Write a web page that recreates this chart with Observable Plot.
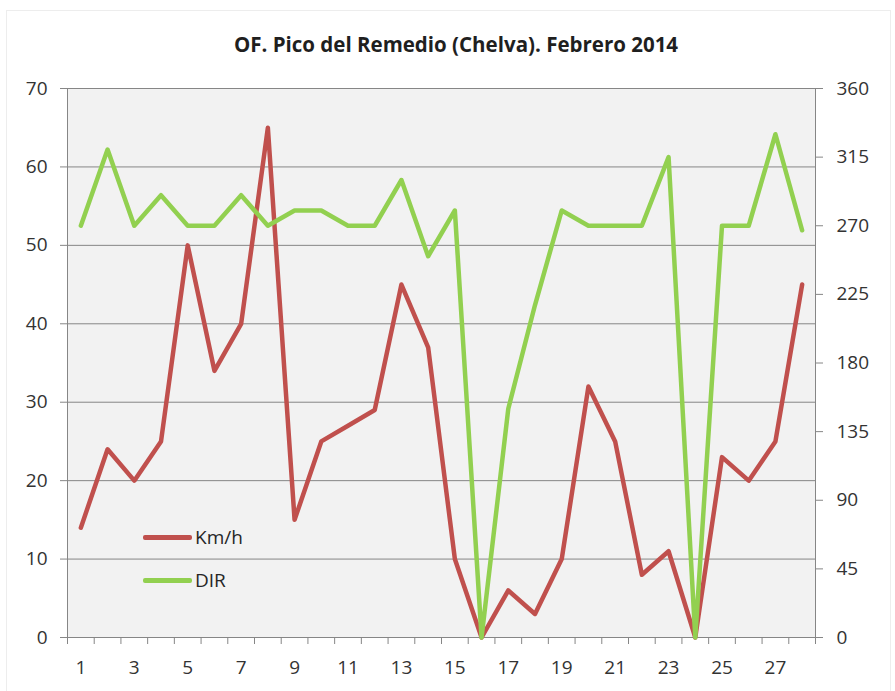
<!DOCTYPE html>
<html><head><meta charset="utf-8">
<script src="https://cdn.jsdelivr.net/npm/d3@7"></script>
<script src="https://cdn.jsdelivr.net/npm/@observablehq/plot@0.6"></script>
<style>
body{margin:0;background:#fff;font-family:"Open Sans",sans-serif;}
#wrap{position:relative;width:895px;height:691px;overflow:hidden;}
#border{position:absolute;left:6px;top:10px;width:885px;height:690px;border:1px solid #ededed;box-sizing:border-box;}
#title{position:absolute;left:0;top:30px;width:912px;text-align:center;font-weight:bold;font-size:20.5px;color:#1f1f1f;line-height:28px;}
.leg{position:absolute;left:143px;width:49px;height:4.5px;border-radius:2px;}
.legt{position:absolute;left:195px;font-size:19px;color:#262626;line-height:20px;}
#chart{position:absolute;left:0;top:0;}
</style></head><body>
<div id="wrap">
<div id="border"></div>
<div id="chart"></div>
<div id="title"></div>
<div class="leg" style="top:535px;background:#c0504d"></div><div class="legt" id="l1" style="top:527px"></div>
<div class="leg" style="top:578px;background:#92d050"></div><div class="legt" id="l2" style="top:570px"></div>
</div>
<script>
const titleText = "OF. Pico del Remedio (Chelva). Febrero 2014";
const seriesNames = ["Km/h", "DIR"];
const days = [1,2,3,4,5,6,7,8,9,10,11,12,13,14,15,16,17,18,19,20,21,22,23,24,25,26,27,28];
const speed = [14,24,20,25,50,34,40,65,15,25,27,29,45,37,10,0,6,3,10,32,25,8,11,0,23,20,25,45];
const dir = [270,320,270,290,270,270,290,270,280,280,270,270,300,250,280,0,150,218,280,270,270,270,315,0,270,270,330,267];
const leftTicks = [0,10,20,30,40,50,60,70];
const rightTicks = [0,45,90,135,180,225,270,315,360];
const xLabels = [1,3,5,7,9,11,13,15,17,19,21,23,25,27];

const k = 70/360;
const data = days.map((d,i)=>({day:d, speed:speed[i], dir:dir[i]}));
const bounds = days.map(d=>d-0.5).concat([days[days.length-1]+0.5]);

document.getElementById("title").textContent = titleText;
document.getElementById("l1").textContent = seriesNames[0];
document.getElementById("l2").textContent = seriesNames[1];

const grid = "#868686";
const chart = Plot.plot({
  width: 895, height: 691,
  marginLeft: 67, marginRight: 80, marginTop: 88, marginBottom: 54,
  style: {fontFamily: "Open Sans", fontSize: "19px", color: "#333", background: "transparent"},
  x: {domain: [0.5, 28.5]},
  y: {domain: [0, 70]},
  marks: [
    Plot.frame({fill: "#f2f2f2", stroke: null}),
    Plot.gridY(leftTicks, {stroke: grid, strokeOpacity: 1, strokeWidth: 1}),
    Plot.ruleX([bounds[0], bounds[bounds.length-1]], {stroke: grid, strokeWidth: 1}),
    Plot.axisY({ticks: leftTicks, tickSize: 7, tickPadding: 13, label: null, stroke: grid, tickFormat: d => d}),
    Plot.axisY({anchor: "right", ticks: rightTicks.map(v => v*k), tickSize: 7, tickPadding: 14, label: null, stroke: grid, tickFormat: d => Math.round(d/k)}),
    Plot.axisX({ticks: bounds, tickSize: 7, tickFormat: () => "", label: null, stroke: grid}),
    Plot.axisX({ticks: xLabels, tickSize: 0, tickPadding: 23, label: null, tickFormat: d => d}),
    Plot.line(data, {x: "day", y: "speed", stroke: "#c0504d", strokeWidth: 4.5, strokeLinejoin: "round", strokeLinecap: "round"}),
    Plot.line(data, {x: "day", y: d => d.dir*k, stroke: "#92d050", strokeWidth: 4.5, strokeLinejoin: "round", strokeLinecap: "round"})
  ]
});
document.getElementById("chart").appendChild(chart);
</script>
</body></html>
